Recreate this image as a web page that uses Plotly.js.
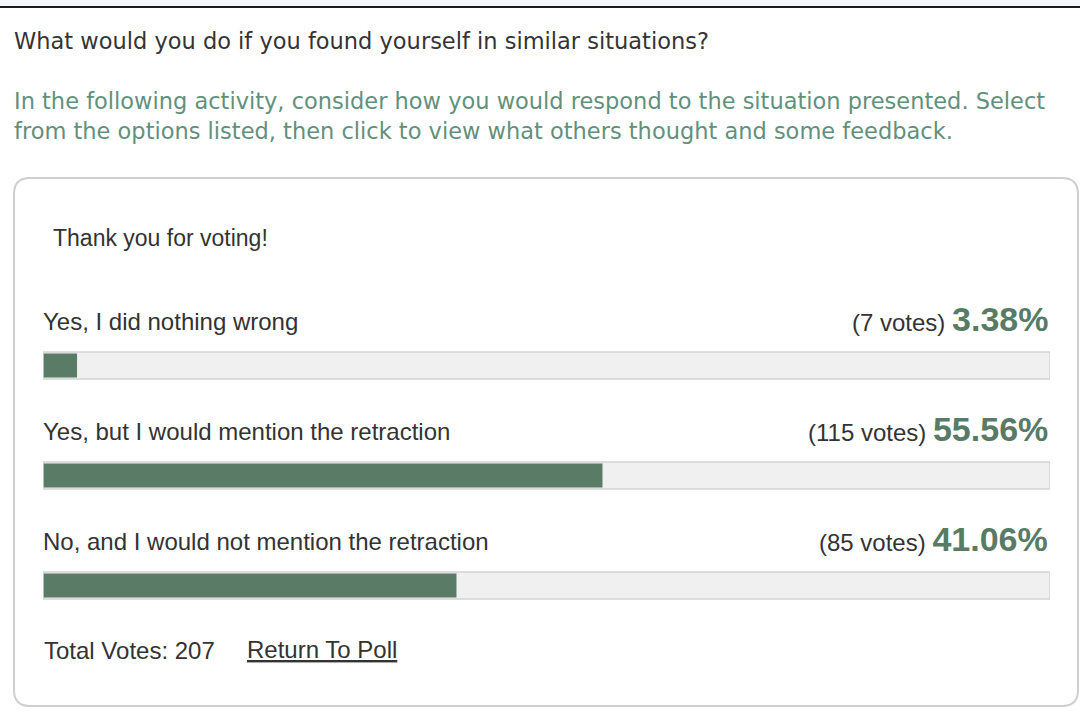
<!DOCTYPE html>
<html>
<head>
<meta charset="utf-8">
<script src="https://cdn.plot.ly/plotly-3.0.1.min.js"></script>
<style>
  html, body { margin: 0; padding: 0; background: #ffffff; }
  #chart { width: 1080px; height: 719px; }
</style>
</head>
<body>
<div id="chart"></div>
<script>
// ---- data ----
const questionTitle = "What would you do if you found yourself in similar situations?";
const introLines = [
  "In the following activity, consider how you would respond to the situation presented. Select",
  "from the options listed, then click to view what others thought and some feedback."
];
const thanksText = "Thank you for voting!";
const categories = [
  "Yes, I did nothing wrong",
  "Yes, but I would mention the retraction",
  "No, and I would not mention the retraction"
];
const votes = [7, 115, 85];
const percents = [3.38, 55.56, 41.06];
const totalVotes = 207;
const returnLink = "Return To Poll";

// ---- layout helpers (pixel -> paper) ----
const W = 1080, H = 719;
const px = x => x / W;
const py = y => 1 - y / H;

const FONT = "Liberation Sans, Arial, sans-serif";
const WIDE = "DejaVu Sans, Verdana, sans-serif";
const DARK = "#333333";
const GREEN = "#587b66";
const FILL = "#5a7b66";

// y axis placement so categories sit at bar centres
const barTop = 365.5, barStep = 110;
const yDomTop = barTop - barStep / 2;
const yDomBot = barTop + barStep * 2.5;

const trackVals = categories.map(() => 100);

const traces = [
  {
    type: "bar", orientation: "h", y: categories, x: trackVals,
    width: 0.245, marker: { color: "#f0f0f0", line: { width: 0 } },
    hoverinfo: "skip", showlegend: false
  },
  {
    type: "bar", orientation: "h", y: categories, x: percents,
    width: 0.22, marker: { color: FILL, line: { width: 0 } },
    hoverinfo: "skip", showlegend: false
  },
  {
    type: "bar", orientation: "h", y: categories, x: trackVals,
    width: 0.245, marker: { color: "rgba(0,0,0,0)", line: { width: 1.5, color: "#d3d3d3" } },
    hoverinfo: "skip", showlegend: false
  }
];

const annotations = [];
// title
annotations.push({
  xref: "paper", yref: "paper", x: px(12), y: py(41), xanchor: "left", yanchor: "middle",
  text: questionTitle, showarrow: false, font: { family: WIDE, size: 22.5, color: "#343434" }
});
// intro lines
introLines.forEach((t, i) => {
  annotations.push({
    xref: "paper", yref: "paper", x: px(12), y: py(101 + i * 30), xanchor: "left", yanchor: "middle",
    text: t, showarrow: false, font: { family: WIDE, size: 22.5, color: "#62907d" }
  });
});
// thanks
annotations.push({
  xref: "paper", yref: "paper", x: px(51), y: py(238), xanchor: "left", yanchor: "middle",
  text: thanksText, showarrow: false, font: { family: FONT, size: 23, color: DARK }
});
// option labels and results
categories.forEach((c, i) => {
  annotations.push({
    xref: "paper", yref: "y", x: px(41), y: c, xanchor: "left", yanchor: "middle", yshift: 44,
    text: c, showarrow: false, font: { family: FONT, size: 24, color: DARK }
  });
  annotations.push({
    xref: "paper", yref: "y", x: px(1050), y: c, xanchor: "right", yanchor: "middle", yshift: 47,
    text: "(" + votes[i] + " votes) <span style=\"font-size:34px;font-weight:bold;color:" + GREEN + "\">" +
          percents[i].toFixed(2) + "%</span>",
    showarrow: false, font: { family: FONT, size: 24, color: DARK }
  });
});
// footer
annotations.push({
  xref: "paper", yref: "paper", x: px(42), y: py(650), xanchor: "left", yanchor: "middle",
  text: "Total Votes: " + totalVotes, showarrow: false, font: { family: FONT, size: 24, color: DARK }
});
annotations.push({
  xref: "paper", yref: "paper", x: px(245), y: py(649), xanchor: "left", yanchor: "middle",
  text: "<u>" + returnLink + "</u>", showarrow: false, font: { family: FONT, size: 24, color: DARK }
});

// rounded panel
function roundRect(x0, y0, x1, y1, r) {
  const X = v => px(v), Y = v => py(v);
  return "M " + X(x0 + r) + "," + Y(y0) +
    " L " + X(x1 - r) + "," + Y(y0) +
    " Q " + X(x1) + "," + Y(y0) + " " + X(x1) + "," + Y(y0 + r) +
    " L " + X(x1) + "," + Y(y1 - r) +
    " Q " + X(x1) + "," + Y(y1) + " " + X(x1 - r) + "," + Y(y1) +
    " L " + X(x0 + r) + "," + Y(y1) +
    " Q " + X(x0) + "," + Y(y1) + " " + X(x0) + "," + Y(y1 - r) +
    " L " + X(x0) + "," + Y(y0 + r) +
    " Q " + X(x0) + "," + Y(y0) + " " + X(x0 + r) + "," + Y(y0) + " Z";
}

const shapes = [
  { type: "rect", xref: "paper", yref: "paper", x0: 0, x1: 1, y0: py(6), y1: 1,
    fillcolor: "#f3f7fb", line: { width: 0 }, layer: "below" },
  { type: "line", xref: "paper", yref: "paper", x0: 0, x1: 1, y0: py(7), y1: py(7),
    line: { color: "#1a1a1a", width: 2 } },
  { type: "path", xref: "paper", yref: "paper", path: roundRect(14, 178, 1078, 706, 16),
    line: { color: "#cfcfcf", width: 2 }, fillcolor: "rgba(0,0,0,0)", layer: "below" }
];

const layout = {
  width: W, height: H,
  margin: { l: 0, r: 0, t: 0, b: 0 },
  paper_bgcolor: "#ffffff", plot_bgcolor: "rgba(0,0,0,0)",
  barmode: "overlay",
  showlegend: false,
  xaxis: { domain: [px(43), px(1050)], range: [0, 100], visible: false, fixedrange: true },
  yaxis: { domain: [py(yDomBot), py(yDomTop)], type: "category", categoryorder: "array",
           categoryarray: categories, range: [2.5, -0.5], visible: false, fixedrange: true },
  annotations: annotations,
  shapes: shapes
};

Plotly.newPlot("chart", traces, layout, { displayModeBar: false, staticPlot: true });
</script>
</body>
</html>
